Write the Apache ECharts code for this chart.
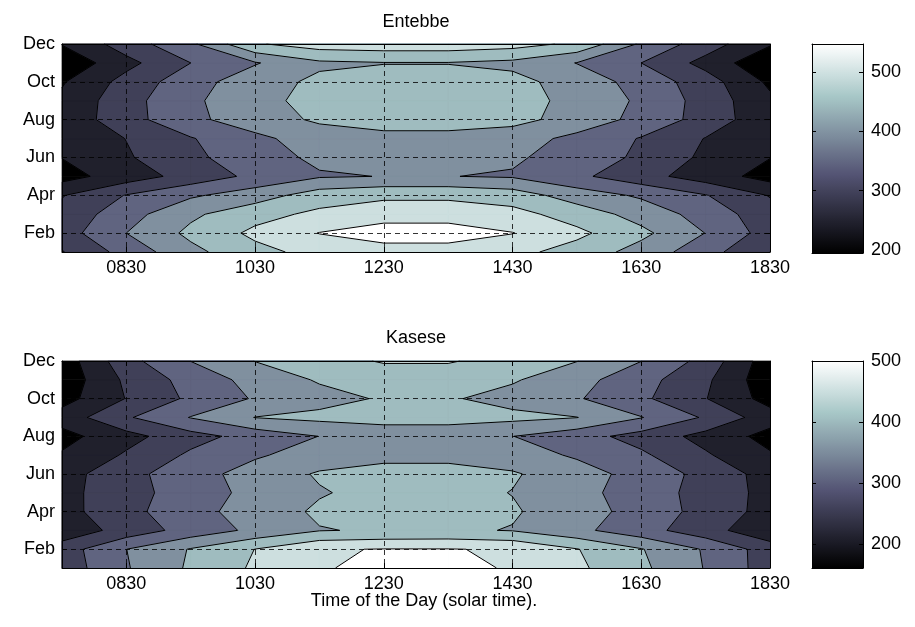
<!DOCTYPE html>
<html><head><meta charset="utf-8">
<script src="https://cdn.jsdelivr.net/npm/echarts/dist/echarts.min.js"></script>
<style>html,body{margin:0;padding:0;background:#fff}#c{width:915px;height:627px}</style>
</head><body><div id="c"></div>
<script>
const hours = ['0730','0830','0930','1030','1130','1230','1330','1430','1530','1630','1730','1830'];
const months = ['Jan','Feb','Mar','Apr','May','Jun','Jul','Aug','Sep','Oct','Nov','Dec'];
const titles = ['Entebbe', 'Kasese'];
const xTitle = 'Time of the Day (solar time).';

// rows = months Jan..Dec, columns = hours 0730..1830
const entebbe = [
  [293.1, 365.0, 432.4, 481.6, 514.3, 525.4, 525.4, 511.8, 476.6, 426.3, 366.0, 295.6],
  [323.2, 396.1, 457.5, 508.3, 548.5, 571.1, 571.1, 548.5, 508.8, 458.5, 395.1, 324.2],
  [310.7, 376.0, 436.4, 479.1, 508.3, 525.4, 525.4, 514.3, 474.1, 426.3, 376.0, 315.7],
  [293.1, 348.4, 388.6, 421.3, 471.6, 486.7, 486.7, 471.6, 421.3, 388.6, 348.4, 293.1],
  [225.2, 270.4, 315.2, 358.4, 391.1, 397.1, 397.1, 391.1, 356.4, 314.7, 270.9, 225.2],
  [246.3, 290.5, 334.8, 374.5, 406.2, 411.2, 411.2, 403.7, 372.5, 337.3, 285.5, 246.3],
  [255.3, 297.1, 342.8, 382.6, 423.8, 426.3, 426.3, 418.8, 382.6, 342.8, 294.1, 250.3],
  [260.4, 327.3, 382.6, 425.8, 452.5, 474.1, 474.1, 461.5, 426.3, 381.1, 326.7, 260.4],
  [255.3, 327.8, 386.1, 431.8, 461.5, 476.6, 476.6, 464.0, 432.9, 387.6, 326.7, 255.3],
  [240.3, 313.7, 376.0, 424.3, 456.5, 471.6, 471.6, 461.5, 424.3, 377.5, 319.2, 235.2],
  [205.1, 281.0, 345.9, 392.1, 437.4, 443.9, 443.9, 433.9, 394.6, 345.9, 279.5, 202.5],
  [247.8, 320.7, 386.1, 491.7, 521.9, 526.9, 526.9, 516.8, 486.7, 388.6, 320.7, 250.3]
];
const kasese = [
  [277.2, 351.3, 410.4, 459.3, 495.2, 514.5, 514.5, 495.2, 461.3, 412.8, 352.3, 282.1],
  [282.1, 354.7, 406.1, 452.6, 496.6, 501.5, 501.5, 496.1, 454.0, 405.6, 349.9, 282.1],
  [226.4, 276.7, 325.7, 365.9, 400.7, 408.0, 410.4, 400.7, 366.8, 325.7, 276.3, 224.0],
  [240.9, 291.3, 337.3, 377.5, 410.4, 422.5, 422.5, 408.0, 376.5, 336.8, 288.4, 240.9],
  [243.3, 286.9, 330.5, 369.2, 399.3, 417.7, 417.7, 401.7, 370.2, 332.0, 287.4, 243.3],
  [238.5, 289.8, 335.3, 375.1, 408.0, 415.3, 415.3, 408.0, 375.5, 337.3, 290.8, 238.5],
  [214.3, 263.7, 314.0, 348.9, 376.5, 393.5, 393.5, 376.5, 348.9, 314.0, 263.7, 214.3],
  [192.5, 241.9, 287.9, 325.2, 355.7, 376.5, 376.5, 355.7, 325.2, 287.9, 241.9, 192.5],
  [231.2, 300.0, 357.1, 404.1, 415.3, 420.1, 420.1, 415.3, 404.1, 357.1, 300.0, 231.2],
  [190.1, 259.8, 315.5, 359.6, 386.2, 408.0, 408.0, 386.2, 359.6, 315.5, 259.8, 190.1],
  [175.5, 267.5, 324.2, 372.2, 408.0, 422.5, 422.5, 408.0, 372.2, 324.2, 267.5, 175.5],
  [180.4, 289.3, 355.7, 404.1, 432.2, 456.4, 456.4, 432.2, 404.1, 355.7, 289.3, 180.4]
];
const entebbeLevels = [245, 296, 346, 396, 446, 497, 547];
const kaseseLevels = [209, 258, 306, 355, 403, 452, 500];
const entebbeBar = [195, 547];
const kaseseBar = [161, 500];

const FONT = '"Liberation Sans", Arial, Helvetica, sans-serif';
const FS = 18;

function bone(t) {
  const hr = Math.min(1, t * 8 / 3);
  const hg = Math.max(0, Math.min(1, (t - 3 / 8) * 8 / 3));
  const hb = Math.max(0, Math.min(1, (t - 3 / 4) * 4));
  const c = v => Math.round(Math.max(0, Math.min(1, v)) * 255);
  return 'rgb(' + c((7 * t + hb) / 8) + ',' + c((7 * t + hg) / 8) + ',' + c((7 * t + hr) / 8) + ')';
}
const bandColors = [];
for (let k = 0; k <= 7; k++) bandColors.push(bone(k / 7));

function superPoly(vals, L) {
  const P = [[0, 0], [1, 0], [1, 1], [0, 1]];
  const pts = [];
  for (let m = 0; m < 4; m++) {
    const a = vals[m], b = vals[(m + 1) % 4];
    const pa = P[m], pb = P[(m + 1) % 4];
    if (a >= L) pts.push({ p: pa, t: 'c' });
    if ((a >= L) !== (b >= L)) {
      const f = (L - a) / (b - a);
      pts.push({ p: [pa[0] + f * (pb[0] - pa[0]), pa[1] + f * (pb[1] - pa[1])], t: a >= L ? 'exit' : 'entry' });
    }
  }
  return pts;
}

function cellInfo(Z, api) {
  const j = api.value(0), i = api.value(1);
  const vals = [Z[i][j], Z[i][j + 1], Z[i + 1][j + 1], Z[i + 1][j]];
  const c0 = api.coord([hours[j], months[i]]);
  const c1 = api.coord([hours[j + 1], months[i + 1]]);
  const map = p => [c0[0] + p[0] * (c1[0] - c0[0]), c0[1] + p[1] * (c1[1] - c0[1])];
  return { vals, map };
}

const cells = [];
for (let i = 0; i < 11; i++) for (let j = 0; j < 11; j++) cells.push([j, i]);

const stations = [
  { Z: entebbe, levels: entebbeLevels, bar: entebbeBar },
  { Z: kasese, levels: kaseseLevels, bar: kaseseBar }
];

const grids = [
  { left: 62, top: 44, width: 708, height: 208 },
  { left: 62, top: 361, width: 708, height: 207 },
  { left: 812, top: 44, width: 51, height: 209 },
  { left: 812, top: 361, width: 51, height: 207 }
];

const oddIdx = (idx) => idx % 2 === 1;
const xAxes = [], yAxes = [], series = [];

for (let s = 0; s < 2; s++) {
  const xi = xAxes.length, yi = yAxes.length;
  xAxes.push({
    type: 'category', gridIndex: s, data: hours, boundaryGap: false, z: 10,
    axisLine: { show: true, lineStyle: { color: '#000', width: 1 } },
    axisTick: { show: true, inside: true, length: 5, interval: oddIdx, lineStyle: { color: '#000' } },
    axisLabel: { show: true, interval: oddIdx, color: '#000', fontSize: FS, fontFamily: FONT, margin: 7 },
    splitLine: { show: true, interval: oddIdx, lineStyle: { color: '#000', width: 0.8, type: [5, 4] } }
  });
  xAxes.push({
    type: 'category', gridIndex: s, data: hours, boundaryGap: false, position: 'top', z: 10,
    axisLine: { show: true, lineStyle: { color: '#000', width: 1 } },
    axisTick: { show: true, inside: true, length: 5, interval: oddIdx, lineStyle: { color: '#000' } },
    axisLabel: { show: false }, splitLine: { show: false }
  });
  yAxes.push({
    type: 'category', gridIndex: s, data: months, boundaryGap: false, z: 10,
    axisLine: { show: true, lineStyle: { color: '#000', width: 1 } },
    axisTick: { show: true, inside: true, length: 5, interval: oddIdx, lineStyle: { color: '#000' } },
    axisLabel: { show: true, interval: oddIdx, color: '#000', fontSize: FS, fontFamily: FONT, margin: 7 },
    splitLine: { show: true, interval: oddIdx, lineStyle: { color: '#000', width: 0.8, type: [5, 4] } }
  });
  yAxes.push({
    type: 'category', gridIndex: s, data: months, boundaryGap: false, position: 'right', z: 10,
    axisLine: { show: true, lineStyle: { color: '#000', width: 1 } },
    axisTick: { show: true, inside: true, length: 5, interval: oddIdx, lineStyle: { color: '#000' } },
    axisLabel: { show: false }, splitLine: { show: false }
  });
  const st = stations[s];
  for (let k = 0; k <= 7; k++) {
    series.push({
      type: 'custom', xAxisIndex: xi, yAxisIndex: yi, data: cells, silent: true, z: 2 + k * 0.01,
      renderItem: function (params, api) {
        const ci = cellInfo(st.Z, api);
        let pts;
        if (k === 0) pts = [[0, 0], [1, 0], [1, 1], [0, 1]];
        else {
          const sp = superPoly(ci.vals, st.levels[k - 1]);
          if (sp.length < 3) return null;
          pts = sp.map(o => o.p);
        }
        return {
          type: 'polygon',
          shape: { points: pts.map(ci.map) },
          style: { fill: bandColors[k], stroke: bandColors[k], lineWidth: 0.7 }
        };
      }
    });
  }
  series.push({
    type: 'custom', xAxisIndex: xi, yAxisIndex: yi, data: cells, silent: true, z: 3,
    renderItem: function (params, api) {
      const ci = cellInfo(st.Z, api);
      const children = [];
      st.levels.forEach(L => {
        const sp = superPoly(ci.vals, L);
        for (let m = 0; m < sp.length; m++) {
          if (sp[m].t === 'exit') {
            const a = ci.map(sp[m].p), b = ci.map(sp[(m + 1) % sp.length].p);
            children.push({ type: 'line', shape: { x1: a[0], y1: a[1], x2: b[0], y2: b[1] },
              style: { stroke: '#000', lineWidth: 1 } });
          }
        }
      });
      return { type: 'group', children };
    }
  });
}

// colorbars
const stops = [];
for (let q = 0; q <= 40; q++) stops.push({ offset: q / 40, color: bone(q / 40) });
for (let s = 0; s < 2; s++) {
  const g = 2 + s;
  const bar = stations[s].bar;
  const xi = xAxes.length, yi = yAxes.length;
  xAxes.push({ type: 'value', gridIndex: g, min: 0, max: 1, z: 10,
    axisLine: { show: true, onZero: false, lineStyle: { color: '#000' } }, axisTick: { show: false },
    axisLabel: { show: false }, splitLine: { show: false } });
  xAxes.push({ type: 'value', gridIndex: g, min: 0, max: 1, position: 'top', z: 10,
    axisLine: { show: true, onZero: false, lineStyle: { color: '#000' } }, axisTick: { show: false },
    axisLabel: { show: false }, splitLine: { show: false } });
  yAxes.push({ type: 'value', gridIndex: g, min: bar[0], max: bar[1], splitNumber: 4, position: 'right', z: 10,
    axisLine: { show: true, onZero: false, lineStyle: { color: '#000' } },
    axisTick: { show: true, inside: true, length: 4, lineStyle: { color: '#000' } },
    axisLabel: { show: true, color: '#000', fontSize: FS, fontFamily: FONT, margin: 8,
      formatter: v => (v % 100 === 0 ? String(v) : '') },
    splitLine: { show: false } });
  yAxes.push({ type: 'value', gridIndex: g, min: bar[0], max: bar[1], splitNumber: 4, position: 'left', z: 10,
    axisLine: { show: true, onZero: false, lineStyle: { color: '#000' } },
    axisTick: { show: true, inside: true, length: 4, lineStyle: { color: '#000' } },
    axisLabel: { show: false }, splitLine: { show: false } });
  series.push({
    type: 'custom', xAxisIndex: xi, yAxisIndex: yi, data: [[0, bar[0]]], silent: true, z: 2,
    renderItem: function (params, api) {
      const p0 = api.coord([0, bar[0]]);
      const p1 = api.coord([1, bar[1]]);
      return { type: 'rect',
        shape: { x: p0[0], y: p1[1], width: p1[0] - p0[0], height: p0[1] - p1[1] },
        style: { fill: new echarts.graphic.LinearGradient(0, 1, 0, 0, stops) } };
    }
  });
}

const chart = echarts.init(document.getElementById('c'), null, { renderer: 'canvas' });
chart.setOption({
  animation: false,
  backgroundColor: '#fff',
  grid: grids,
  xAxis: xAxes,
  yAxis: yAxes,
  series: series,
  graphic: [
    { type: 'text', x: 416, y: 22, style: { text: titles[0], font: FS + 'px ' + FONT, fill: '#000', textAlign: 'center', textVerticalAlign: 'middle' } },
    { type: 'text', x: 416, y: 338, style: { text: titles[1], font: FS + 'px ' + FONT, fill: '#000', textAlign: 'center', textVerticalAlign: 'middle' } },
    { type: 'text', x: 424, y: 601, style: { text: xTitle, font: FS + 'px ' + FONT, fill: '#000', textAlign: 'center', textVerticalAlign: 'middle' } }
  ]
});
</script>
</body></html>
